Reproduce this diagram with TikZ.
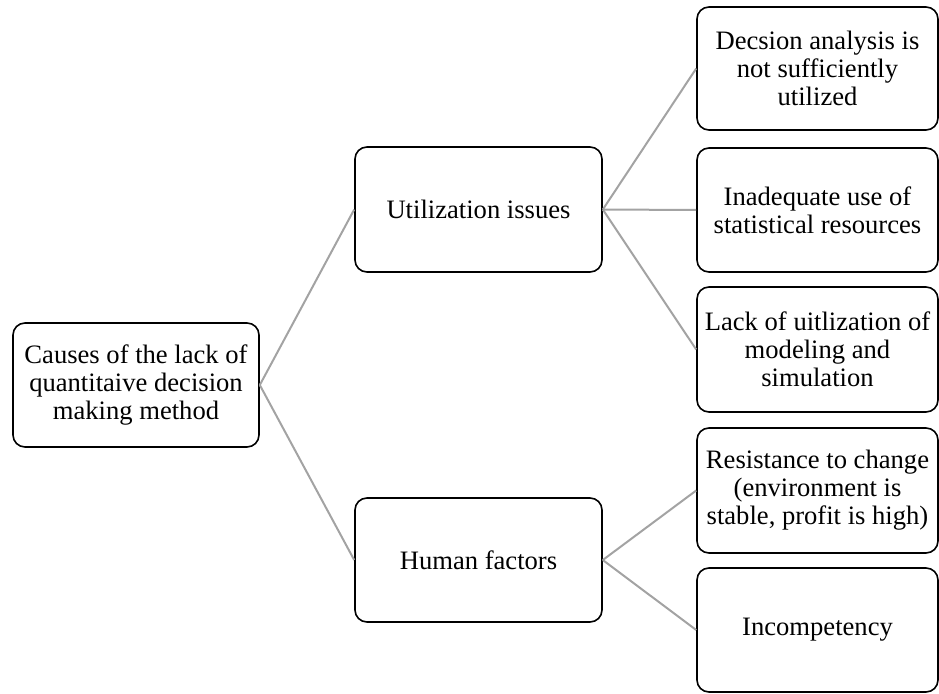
\documentclass[tikz,border=0pt]{standalone}
\usepackage{fontspec}
\setmainfont{Liberation Serif}
\definecolor{linkgray}{HTML}{A3A3A3}
\begin{document}
\begin{tikzpicture}[x=1pt,y=-1pt,
  box/.style={draw=black, line width=1.6pt, rounded corners=12pt, fill=white,
    align=center, inner sep=2pt, font=\fontsize{26.6}{28}\selectfont},
  link/.style={draw=linkgray, line width=2pt}]
\useasboundingbox (0,0) rectangle (939,693);
\node[box, minimum width=246pt, minimum height=124pt] (root) at (136,385)
  {Causes of the lack of\\quantitaive decision\\making method};
\node[box, minimum width=247pt, minimum height=125pt] (util) at (478.5,209.5) {Utilization issues};
\node[box, minimum width=247pt, minimum height=124pt] (human) at (478.5,560) {Human factors};
\node[box, minimum width=241pt, minimum height=123pt] (r1) at (817.5,68.5)
  {Decsion analysis is\\not sufficiently\\utilized};
\node[box, minimum width=241pt, minimum height=124pt] (r2) at (817.5,210)
  {Inadequate use of\\statistical resources};
\node[box, minimum width=241pt, minimum height=125pt] (r3) at (817.5,349.5)
  {Lack of uitlization of\\modeling and\\simulation};
\node[box, minimum width=241pt, minimum height=125pt] (r4) at (817.5,490.5)
  {Resistance to change\\(environment is\\stable, profit is high)};
\node[box, minimum width=241pt, minimum height=124pt] (r5) at (817.5,630)
  {Incompetency};
\draw[link] (root.east) -- (util.west);
\draw[link] (root.east) -- (human.west);
\draw[link] (util.east) -- (r1.west);
\draw[link] (util.east) -- (r2.west);
\draw[link] (util.east) -- (r3.west);
\draw[link] (human.east) -- (r4.west);
\draw[link] (human.east) -- (r5.west);
\end{tikzpicture}
\end{document}
